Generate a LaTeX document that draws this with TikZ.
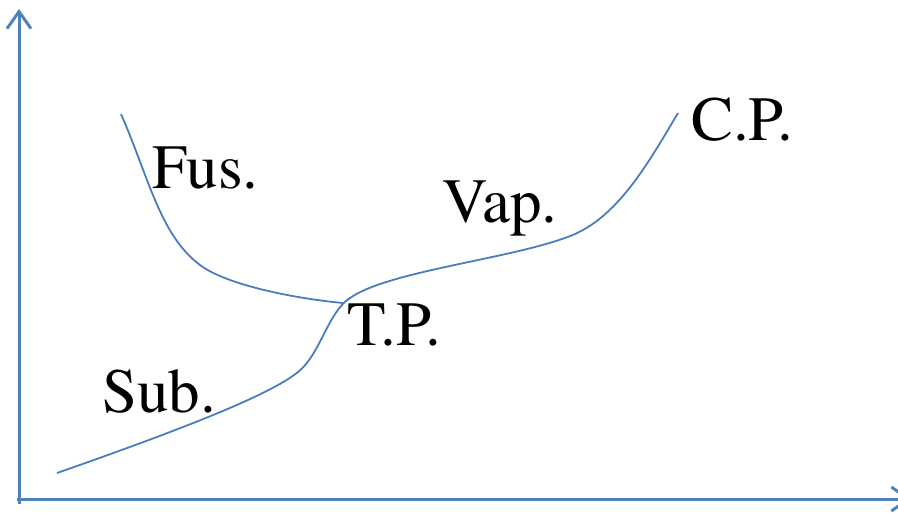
\documentclass[tikz,border=0pt]{standalone}
\usepackage{fontspec}
\setmainfont{TeX Gyre Termes}
\usetikzlibrary{arrows.meta}
\definecolor{axisblue}{HTML}{4F81BD}
\definecolor{curveblue}{HTML}{4A7EBB}
\tikzset{
  axisline/.style={draw=axisblue,line width=3pt,-{Straight Barb[length=17pt,width=24pt,line width=3pt]}},
  curve/.style={draw=curveblue,line width=1.8pt},
  lbl/.style={anchor=base west,inner sep=0pt,font=\fontsize{63}{75}\selectfont}
}
\begin{document}
\begin{tikzpicture}[x=1pt,y=-1pt]
\useasboundingbox (0,0) rectangle (898,512);
\coordinate (O) at (19,499);
\coordinate (ytop) at (19,9);
\coordinate (xend) at (911,499);
\draw[axisline] (19,504) -- (ytop);
\draw[axisline] (17,499) -- (xend);
\coordinate (TP) at (343,303);
\coordinate (fstart) at (121,114);
\coordinate (sstart) at (57,473);
\coordinate (CP) at (678,113);
% fusion curve
\draw[curve] (fstart) .. controls (149,178) and (160,235) .. (200,265)
  .. controls (225,284) and (290,298) .. (TP);
% sublimation + vaporisation curve
\draw[curve] (sstart) .. controls (180,430) and (270,395) .. (298,372)
  .. controls (320,355) and (328,312) .. (350,298)
  .. controls (390,270) and (520,258) .. (575,234)
  .. controls (620,214) and (650,160) .. (CP);
\node[lbl] (fus) at (152,188) {Fus.};
\node[lbl] (vap) at (442,222) {Vap.};
\node[lbl] (cp) at (691,140) {C.P.};
\node[lbl] (tp) at (347,345) {T.P.};
\node[lbl] (sub) at (102,412) {Sub.};
\end{tikzpicture}
\end{document}
